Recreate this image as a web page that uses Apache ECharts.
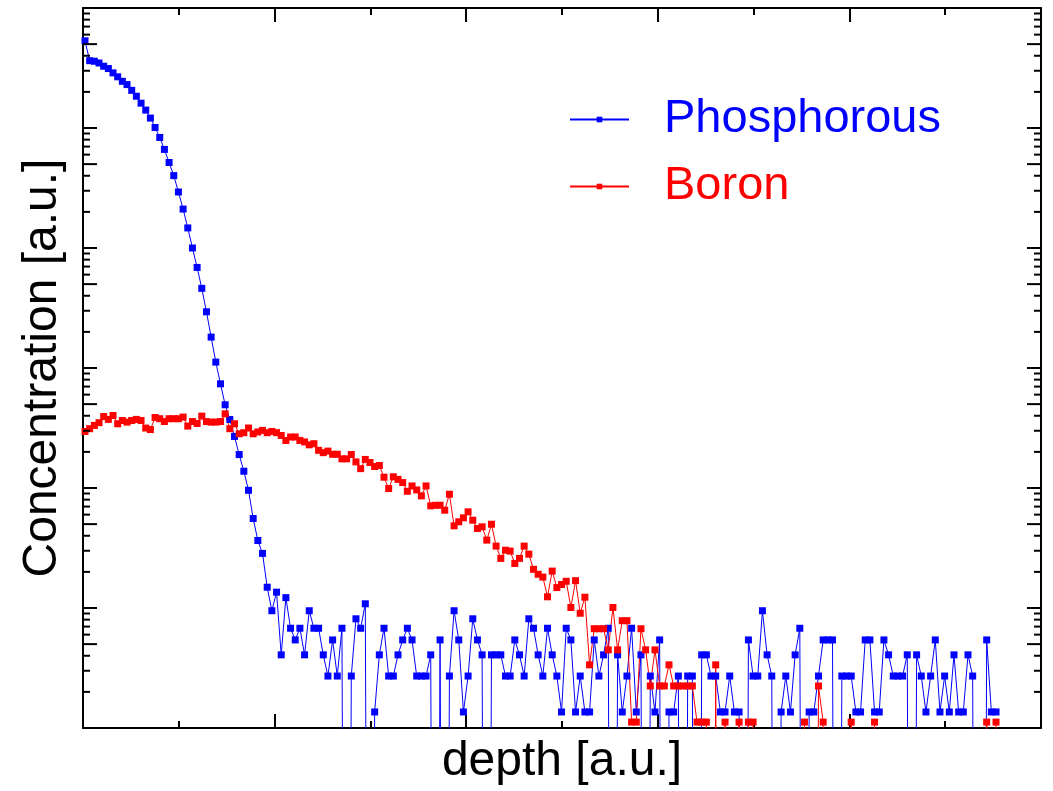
<!DOCTYPE html>
<html><head><meta charset="utf-8">
<script src="https://cdn.jsdelivr.net/npm/echarts@6/dist/echarts.min.js"></script>
<style>html,body{margin:0;padding:0;background:#fff}#c{width:1053px;height:791px}</style>
</head><body><div id="c"></div>
<script>
// depth grid (a.u.)
const depthStart = 0.0104;
const depthStep = 0.024384;

// Phosphorous concentration (a.u.), 0 = no counts (below the log axis)
const phosphorous = [
533000, 364000, 360000, 348000, 327000, 313000, 288000, 267000, 245000, 230000,
206000, 184000, 161000, 141000, 121000, 101000, 83400, 66300, 51600, 40100,
29300, 21100, 14700, 10000, 6890, 4610, 2940, 1810, 1120, 738,
494, 372, 269, 190, 138, 95.7, 55.7, 36.5, 28.5, 14.9,
9.49, 13.55, 4.07, 12.2, 6.78, 5.42, 6.78, 4.07, 9.49, 6.78,
6.78, 4.07, 2.71, 5.42, 2.71, 6.78, 0, 2.71, 8.13, 6.78,
10.84, 0, 1.36, 4.07, 6.78, 2.71, 2.71, 4.07, 5.42, 6.78,
5.42, 2.71, 2.71, 2.71, 4.07, 0, 5.42, 0, 2.71, 9.49,
5.42, 1.36, 2.71, 8.13, 5.42, 4.07, 0, 4.07, 4.07, 4.07,
2.71, 2.71, 5.42, 4.07, 2.71, 8.13, 6.78, 4.07, 2.71, 6.78,
4.07, 2.71, 1.36, 6.78, 5.42, 1.36, 2.71, 1.36, 1.36, 5.42,
2.71, 4.07, 6.78, 0, 4.07, 1.36, 2.71, 6.78, 1.36, 4.07,
0, 2.71, 1.36, 5.42, 0, 1.36, 1.36, 2.71, 0, 2.71,
2.71, 0, 4.07, 4.07, 2.71, 2.71, 1.36, 1.36, 2.71, 1.36,
1.36, 0, 5.42, 2.71, 2.71, 9.49, 4.07, 2.71, 0, 1.36,
2.71, 1.36, 4.07, 6.78, 0, 1.36, 1.36, 2.71, 5.42, 5.42,
5.42, 0, 2.71, 2.71, 2.71, 1.36, 1.36, 5.42, 5.42, 1.36,
1.36, 5.42, 4.07, 2.71, 2.71, 2.71, 4.07, 0, 4.07, 2.71,
1.36, 2.71, 5.42, 1.36, 2.71, 1.36, 4.07, 1.36, 1.36, 4.07,
2.71, 0, 0, 5.42, 1.36, 1.36
];

// Boron concentration (a.u.)
const boron = [
296, 312, 332, 350, 394, 373, 402, 343, 365, 354,
365, 373, 365, 316, 307, 387, 378, 358, 378, 378,
378, 390, 328, 358, 345, 397, 358, 354, 354, 358,
415, 312, 343, 283, 289, 316, 283, 293, 302, 289,
296, 289, 274, 249, 266, 266, 249, 242, 229, 234,
206, 197, 203, 191, 191, 175, 175, 190, 165, 145,
173, 163, 151, 154, 123, 98.9, 124, 118, 111, 93.9,
104, 96.4, 86.0, 104, 71.0, 71.8, 71.8, 65.3, 88.7, 48.4,
52.3, 56.4, 63.3, 53.9, 46.0, 47.5, 36.8, 49.9, 32.8, 25.9,
30.3, 29.8, 23.5, 25.9, 32.8, 28.1, 21.0, 19.1, 18.1, 12.4,
20.3, 14.8, 15.7, 16.7, 10.1, 16.9, 9.04, 12.3, 3.36, 6.72,
6.72, 6.72, 4.48, 10.1, 4.48, 7.84, 7.84, 1.12, 1.12, 6.72,
4.48, 2.24, 4.48, 2.24, 2.24, 3.36, 2.24, 2.24, 2.24, 2.24,
2.24, 1.12, 1.12, 1.12, 0, 3.36, 0, 1.12, 0, 0,
1.12, 0, 1.12, 1.12, 0, 0, 0, 0, 0, 0,
0, 0, 0, 0, 1.12, 0, 0, 2.24, 1.12, 0,
0, 0, 0, 0, 1.12, 0, 0, 0, 0, 1.12,
0, 0, 0, 0, 0, 0, 0, 0, 0, 0,
0, 0, 0, 0, 0, 0, 0, 0, 0, 0,
0, 0, 0, 1.12, 0, 1.12
];

const seriesNames = ['Phosphorous', 'Boron'];
const seriesColors = ['#0000ff', '#ff0000'];

// axis ranges / ticks
const xMin = 0, xMax = 5, xInterval = 1;
const yMin = 1, yMax = 1e6;
const yDecades = [1, 10, 100, 1000, 10000, 100000, 1000000];
const yMinorMultipliers = [2, 3, 4, 5, 6, 7, 8, 9];
const yLongMultiplier = 5;

const BELOW_AXIS = 1e-9; // zero counts fall off the log scale

function toPoints(vals) {
  return vals.map((v, i) => [depthStart + i * depthStep, v > 0 ? v : BELOW_AXIS]);
}

const yTickData = [];
yDecades.forEach((d) => {
  yTickData.push([xMin, d, 1]);
  if (d < yMax) yMinorMultipliers.forEach((m) => yTickData.push([xMin, d * m, m === yLongMultiplier ? 1 : 0]));
});

const font = 'Liberation Sans, Arial, sans-serif';
const tickStyle = { color: '#000', width: 2 };

function xAxisCfg(pos, withName) {
  const c = {
    type: 'value', position: pos, min: xMin, max: xMax, interval: xInterval,
    axisLine: { show: true, onZero: false, lineStyle: { color: '#000', width: 2 } },
    axisTick: { show: true, inside: true, length: 14, lineStyle: tickStyle },
    minorTick: { show: true, splitNumber: 2, length: 7, lineStyle: tickStyle },
    axisLabel: { show: false }, splitLine: { show: false }, minorSplitLine: { show: false }
  };
  if (withName) {
    c.name = 'depth [a.u.]';
    c.nameLocation = 'middle';
    c.nameGap = 10;
    c.nameTextStyle = { fontFamily: font, fontSize: 48, color: '#000' };
  }
  return c;
}
function yAxisCfg(pos, withName) {
  const c = {
    type: 'log', logBase: 10, position: pos, min: yMin, max: yMax,
    axisLine: { show: true, onZero: false, lineStyle: { color: '#000', width: 2 } },
    axisTick: { show: false }, minorTick: { show: false },
    axisLabel: { show: false }, splitLine: { show: false }, minorSplitLine: { show: false }
  };
  if (withName) {
    c.name = 'Concentration [a.u.]';
    c.nameLocation = 'middle';
    c.nameGap = 16;
    c.nameTextStyle = { fontFamily: font, fontSize: 48, color: '#000' };
  }
  return c;
}

const chart = echarts.init(document.getElementById('c'), null, { renderer: 'canvas' });
chart.setOption({
  animation: false,
  backgroundColor: '#fff',
  grid: { left: 83, right: 12, top: 8, bottom: 61, containLabel: false },
  xAxis: [xAxisCfg('bottom', true), xAxisCfg('top', false)],
  yAxis: [yAxisCfg('left', true), yAxisCfg('right', false)],
  legend: {
    orient: 'vertical', left: 569, top: 91, padding: 0,
    itemWidth: 59, itemHeight: 7, itemGap: 10, selectedMode: false,
    data: [
      { name: seriesNames[0], textStyle: { color: seriesColors[0] } },
      { name: seriesNames[1], textStyle: { color: seriesColors[1] } }
    ],
    textStyle: { fontFamily: font, fontSize: 47, lineHeight: 50, padding: [0, 0, 7, 30] }
  },
  series: [
    {
      name: 'yticks', type: 'custom', xAxisIndex: 0, yAxisIndex: 0, silent: true,
      data: yTickData, encode: { x: 0, y: 1 }, z: 10,
      renderItem: function (params, api) {
        const v = api.value(1);
        const len = api.value(2) ? 14 : 7;
        const pL = api.coord([xMin, v]);
        const pR = api.coord([xMax, v]);
        return {
          type: 'group', children: [
            { type: 'line', shape: { x1: pL[0], y1: pL[1], x2: pL[0] + len, y2: pL[1] }, style: { stroke: '#000', lineWidth: 2 } },
            { type: 'line', shape: { x1: pR[0], y1: pR[1], x2: pR[0] - len, y2: pR[1] }, style: { stroke: '#000', lineWidth: 2 } }
          ]
        };
      }
    },
    {
      name: seriesNames[0], type: 'line', data: toPoints(phosphorous),
      symbol: 'rect', symbolSize: 7, showAllSymbol: true, clip: true,
      itemStyle: { color: seriesColors[0] }, lineStyle: { color: seriesColors[0], width: 1 }
    },
    {
      name: seriesNames[1], type: 'line', data: toPoints(boron),
      symbol: 'rect', symbolSize: 7, showAllSymbol: true, clip: true,
      itemStyle: { color: seriesColors[1] }, lineStyle: { color: seriesColors[1], width: 1 }
    }
  ]
});
</script></body></html>
